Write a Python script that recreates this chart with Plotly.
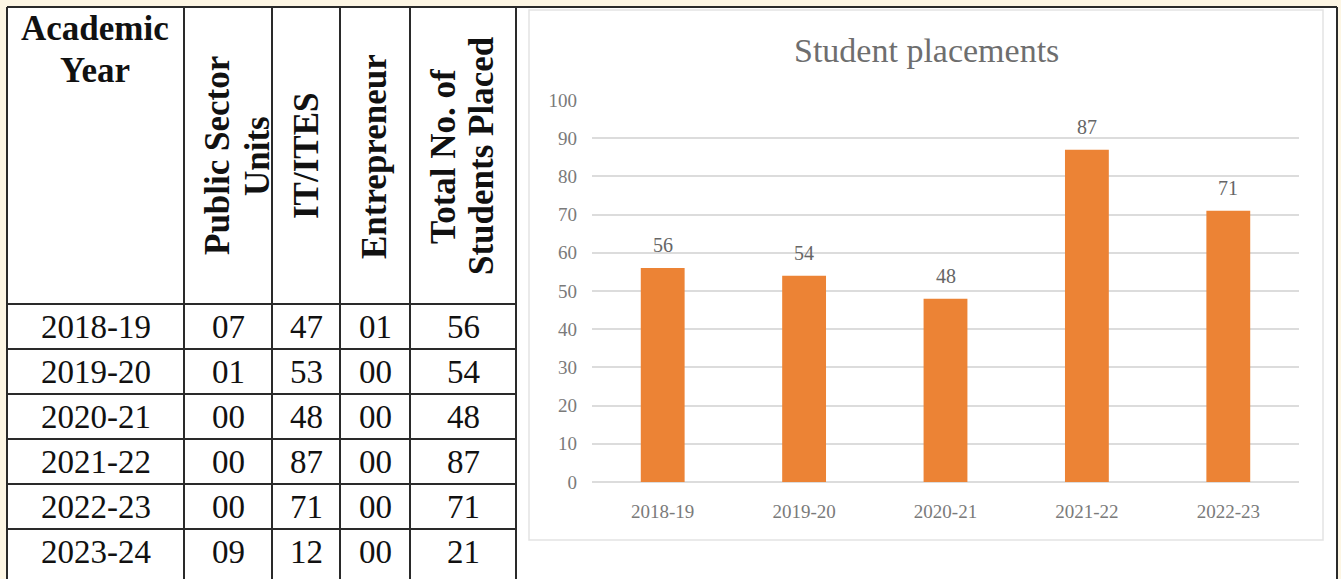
import plotly.graph_objects as go

# ---------------- data ----------------
years = ["2018-19", "2019-20", "2020-21", "2021-22", "2022-23", "2023-24"]
psu = [7, 1, 0, 0, 0, 9]
it_ites = [47, 53, 48, 87, 71, 12]
entrepreneur = [1, 0, 0, 0, 0, 0]
total = [56, 54, 48, 87, 71, 21]

chart_years = ["2018-19", "2019-20", "2020-21", "2021-22", "2022-23"]
chart_values = [56, 54, 48, 87, 71]
chart_title = "Student placements"

W, H = 1341, 579
CREAM = "#FDF6E4"
LINE = "#2a2a2a"
ORANGE = "#EC8335"
GREY_TXT = "#7a7a7a"
SERIF = "Liberation Serif, Times New Roman, serif"


def px(x):
    return x / W


def py(y):
    return 1 - y / H


fig = go.Figure()

fig.add_trace(go.Bar(
    x=chart_years, y=chart_values,
    marker=dict(color=ORANGE, line=dict(width=0)),
    hoverinfo="x+y", showlegend=False,
))

shapes = []
annotations = []

# white table area and chart inner box
shapes.append(dict(type="rect", xref="paper", yref="paper", x0=px(7), x1=px(1337),
                   y0=py(579), y1=py(7), fillcolor="white", line=dict(width=0), layer="below"))
shapes.append(dict(type="rect", xref="paper", yref="paper", x0=px(529), x1=px(1323),
                   y0=py(540), y1=py(10), fillcolor="white",
                   line=dict(color="#E3E3E3", width=1.5), layer="below"))

# table grid lines
col_edges = [7, 184, 272, 340, 410, 516]
row_edges = [304, 349, 394, 439, 484, 529]
for x in col_edges + [1337]:
    shapes.append(dict(type="line", xref="paper", yref="paper", x0=px(x), x1=px(x),
                       y0=py(7), y1=py(579), line=dict(color=LINE, width=2)))
shapes.append(dict(type="line", xref="paper", yref="paper", x0=px(7), x1=px(1337),
                   y0=py(7), y1=py(7), line=dict(color=LINE, width=2)))
for y in row_edges:
    shapes.append(dict(type="line", xref="paper", yref="paper", x0=px(7), x1=px(516),
                       y0=py(y), y1=py(y), line=dict(color=LINE, width=2)))

# header texts
hdr_font = dict(family=SERIF, size=35, color="#111111")
annotations.append(dict(text="<b>Academic</b>", x=px(95), y=py(29), xref="paper", yref="paper",
                        showarrow=False, font=hdr_font, xanchor="center", yanchor="middle"))
annotations.append(dict(text="<b>Year</b>", x=px(95), y=py(70), xref="paper", yref="paper",
                        showarrow=False, font=hdr_font, xanchor="center", yanchor="middle"))
rot_headers = [
    (217, "Public Sector"), (257, "Units"),
    (306, "IT/ITES"),
    (374, "Entrepreneur"),
    (443, "Total No. of"), (481, "Students Placed"),
]
for xc, txt in rot_headers:
    annotations.append(dict(text=f"<b>{txt}</b>", x=px(xc), y=py(156), xref="paper", yref="paper",
                            showarrow=False, font=hdr_font, textangle=-90,
                            xanchor="center", yanchor="middle"))

# body cells
body_font = dict(family=SERIF, size=33, color="#111111")
col_centers = [(col_edges[i] + col_edges[i + 1]) / 2 for i in range(5)]
for r, yr in enumerate(years):
    yc = 304 + 45 * r + 23
    vals = [yr, f"{psu[r]:02d}", f"{it_ites[r]:02d}", f"{entrepreneur[r]:02d}", f"{total[r]:02d}"]
    for c, v in enumerate(vals):
        annotations.append(dict(text=v, x=px(col_centers[c]), y=py(yc), xref="paper", yref="paper",
                                showarrow=False, font=body_font, xanchor="center", yanchor="middle"))

# chart title
annotations.append(dict(text=chart_title, x=px(926), y=py(51), xref="paper", yref="paper",
                        showarrow=False, font=dict(family=SERIF, size=34, color="#6e6e6e"),
                        xanchor="center", yanchor="middle"))

# data labels
for cat, v in zip(chart_years, chart_values):
    annotations.append(dict(text=str(v), x=cat, y=v, xref="x", yref="y", showarrow=False,
                            yshift=23, font=dict(family=SERIF, size=20, color="#666666"),
                            xanchor="center", yanchor="middle"))

fig.update_layout(
    template="none",
    width=W, height=H,
    margin=dict(l=0, r=0, t=0, b=0, pad=0),
    paper_bgcolor=CREAM,
    plot_bgcolor="rgba(0,0,0,0)",
    bargap=0.69,
    shapes=shapes,
    annotations=annotations,
    xaxis=dict(domain=[px(592), px(1299)], type="category", showgrid=False, showline=False,
               zeroline=False, ticks="", automargin=False,
               tickfont=dict(family=SERIF, size=19, color=GREY_TXT),
               ticklabelstandoff=16),
    yaxis=dict(domain=[py(482), py(100)], range=[0, 100], dtick=10, showgrid=True,
               gridcolor="#DCDCDC", gridwidth=1.5, zeroline=True, zerolinecolor="#DCDCDC",
               zerolinewidth=1.5, showline=False, ticks="", automargin=False,
               tickfont=dict(family=SERIF, size=19, color=GREY_TXT), ticklabelstandoff=14),
)

fig.write_html(
    "out.html",
    config={"displayModeBar": False},
    post_script="document.body.style.margin='0';document.body.style.overflow='hidden';",
)
